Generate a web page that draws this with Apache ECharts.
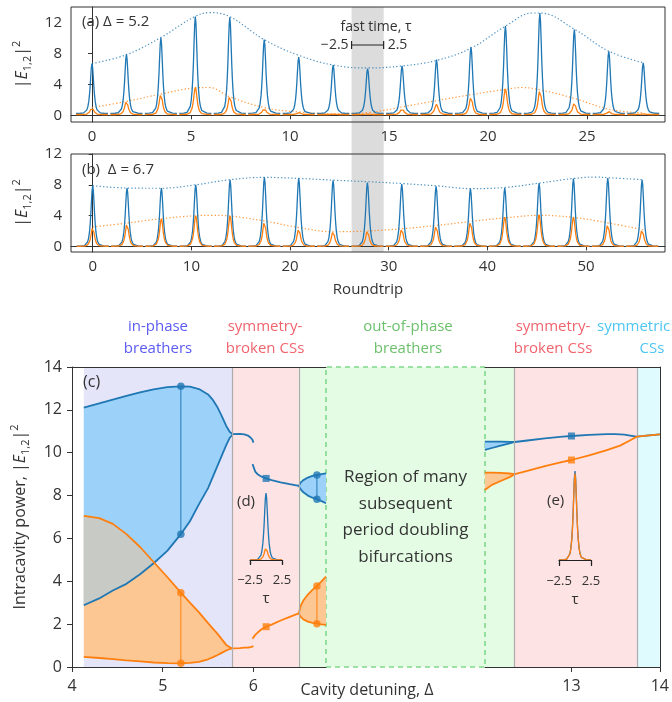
<!DOCTYPE html>
<html><head><meta charset="utf-8">
<script src="https://cdn.jsdelivr.net/npm/echarts@6/dist/echarts.min.js"></script>
<style>html,body{margin:0;padding:0;background:#fff}#c{width:672px;height:702px}</style>
</head><body><div id="c"></div>
<script>
// ---------------- DATA ----------------
// fast-time pulse profile (normalised), tau in [-2.5, 2.5]
const tauGrid = [-2.5,-1.8,-1.3,-1.0,-0.8,-0.65,-0.5,-0.4,-0.3,-0.2,-0.1,0,0.1,0.2,0.3,0.4,0.5,0.65,0.8,1.0,1.3,1.8,2.5];
const pulseProfile = [0,0.002,0.01,0.03,0.07,0.13,0.24,0.36,0.52,0.73,0.92,1,0.92,0.73,0.52,0.36,0.24,0.13,0.07,0.03,0.01,0.002,0];

// panel (a), Delta = 5.2
const roundtripA = [0,1.74,3.48,5.22,6.96,8.7,10.44,12.18,13.92,15.66,17.4,19.14,20.88,22.62,24.36,26.1,27.84];
const peakE1A = [6.7,7.9,10.05,12.8,12.7,9.8,7.55,6.5,6.05,6.4,7.2,8.85,11.57,13.25,11.1,8.3,6.8];
const peakE2A = [1.0,1.8,2.76,3.6,2.5,0.9,0.35,0.15,0.2,0.87,1.42,2.37,3.4,3.3,1.6,0.5,0.2];
const baseE1A = 0.25, baseE2A = 0.1;
const windowA = 1.62;  // roundtrip units spanned by tau in [-2.5,2.5]
const envE1A_x = [0,1.74,3.49,5.17,5.95,6.94,8.7,10.47,12.2,13.94,15.69,17.42,19.16,20.9,22.25,22.63,24.4,26.1,27.86];
const envE1A_y = [6.7,7.85,10.1,12.75,13.3,12.8,9.8,7.75,6.5,6.13,6.4,7.12,8.72,11.57,13.25,13.25,11.1,8.3,6.8];
const envE2A_x = [0,1.74,3.48,5.22,5.9,6.96,8.7,10.44,12.2,13.97,15.69,17.42,19.16,20.9,21.7,22.62,24.4,26.1,27.86];
const envE2A_y = [1.0,1.8,2.75,3.55,3.6,2.4,1.0,0.43,0.2,0.36,1.1,1.9,2.68,3.37,3.6,3.3,2.16,0.78,0.3];

// panel (b), Delta = 6.7
const roundtripB = [0,3.48,6.96,10.44,13.92,17.4,20.88,24.36,27.84,31.32,34.8,38.28,41.76,45.24,48.72,52.2,55.68];
const peakE1B = [7.88,7.58,7.58,8.0,8.66,8.96,8.85,8.57,8.3,8.1,7.8,7.5,7.58,8.23,8.8,8.88,8.66];
const peakE2B = [2.5,3.0,3.6,4.0,3.95,3.25,2.3,1.95,2.04,2.3,2.73,3.25,3.8,4.1,3.8,2.9,2.17];
const baseE1B = 0.02, baseE2B = 0.02;
const windowB = 3.24;
const envE1B_x = [0,3.47,6.95,10.43,13.9,17.4,20.9,24.4,27.9,31.4,34.9,38.4,41.9,45.35,48.8,51,52.3,55.8];
const envE1B_y = [7.88,7.58,7.55,8.0,8.66,8.96,8.83,8.6,8.4,8.16,7.86,7.5,7.67,8.23,8.83,9.0,8.92,8.66];
const envE2B_x = [0,3.47,6.95,10.43,12.2,13.9,17.4,20.9,24.4,27.9,31.4,34.9,38.4,41.9,45.35,48.8,52.3,55.8];
const envE2B_y = [2.52,3.03,3.6,3.98,4.03,3.94,3.3,2.44,1.9,2.0,2.3,2.73,3.25,3.72,4.03,3.75,3.03,2.16];

// panel (c): bifurcation diagram
const regionEdges = [4.13, 5.77, 6.5, 12.35, 13.74, 14];
const inPhaseDelta = [4.13,4.3,4.45,4.6,4.75,4.9,5.05,5.2,5.3,5.4,5.5,5.55,5.6,5.65,5.7,5.74,5.77];
const inPhaseE1Max = [12.1,12.3,12.48,12.65,12.82,12.96,13.06,13.1,13.08,12.97,12.72,12.48,12.15,11.72,11.25,10.97,10.87];
const inPhaseE1Min = [2.88,3.2,3.57,3.88,4.33,4.84,5.42,6.2,6.8,7.6,8.35,8.85,9.35,9.85,10.35,10.7,10.85];
const inPhaseE2Max = [7.05,6.95,6.68,6.2,5.6,4.9,4.2,3.47,3.0,2.55,2.05,1.8,1.57,1.3,1.03,0.92,0.87];
const inPhaseE2Min = [0.47,0.42,0.37,0.31,0.26,0.21,0.18,0.17,0.19,0.24,0.36,0.45,0.55,0.66,0.77,0.84,0.87];
const overlapEnd = 4.9;

const sbDeltaA = [5.77,5.85,5.9,5.94,5.97,5.99,6.0];
const sbE1A = [10.87,10.88,10.86,10.8,10.7,10.6,10.47];
const sbE2A = [0.87,0.88,0.9,0.91,0.93,0.95,0.97];
const sbDeltaB = [5.99,6.02,6.05,6.09,6.14,6.2,6.3,6.4,6.5];
const sbE1B = [9.47,9.12,8.98,8.88,8.8,8.72,8.62,8.53,8.45];
const sbE2B = [1.32,1.5,1.62,1.76,1.88,1.98,2.17,2.34,2.5];

const oopDelta = [6.5,6.52,6.55,6.6,6.65,6.7,6.75,6.8];
const oopE1Max = [8.45,8.6,8.72,8.84,8.92,8.96,9.0,9.04];
const oopE1Min = [8.45,8.3,8.15,8.0,7.9,7.83,7.74,7.64];
const oopE2Max = [2.5,2.85,3.1,3.38,3.6,3.78,4.0,4.22];
const oopE2Min = [2.5,2.35,2.22,2.12,2.06,2.02,1.99,1.97];

const oopRDelta = [12.02,12.1,12.2,12.3,12.36];
const oopRE1Max = [10.52,10.52,10.52,10.51,10.5];
const oopRE1Min = [10.13,10.22,10.33,10.44,10.5];
const oopRE2Max = [9.07,9.07,9.06,9.03,9.0];
const oopRE2Min = [8.26,8.5,8.68,8.86,9.0];

const sbRDeltaE1 = [12.36,12.5,12.7,12.9,13.0,13.2,13.4,13.5,13.6,13.68,13.74,13.85,14.0];
const sbRE1 = [10.5,10.57,10.67,10.75,10.78,10.83,10.87,10.87,10.84,10.79,10.75,10.8,10.86];
const sbRDeltaE2 = [12.36,12.5,12.7,12.9,13.0,13.2,13.4,13.55,13.65,13.74,13.85,14.0];
const sbRE2 = [9.0,9.15,9.37,9.57,9.66,9.88,10.12,10.33,10.55,10.75,10.8,10.86];

const dotE1 = [[5.2,13.1],[5.2,6.2],[6.7,8.96],[6.7,7.83]];
const dotE2 = [[5.2,3.47],[5.2,0.17],[6.7,3.78],[6.7,2.02]];
const squareE1L = [[6.14,8.8]], squareE2L = [[6.14,1.88]];
const squareE1R = [[13.0,10.78]], squareE2R = [[13.0,9.66]];

// insets (d), (e): peak heights relative to E1
const insetD = {e1: 1.0, e2: 0.18};
const insetE = {e1: 1.0, e2: 0.97};

// tick labels
const ticksA = [0,5,10,15,20,25], ticksB = [0,10,20,30,40,50];
const ticksYTop = [0,4,8,12];
const ticksR = [13,14];
const ticksInset = [-2.5, 2.5];

// ---------------- STYLE ----------------
const C1 = '#1f77b4', C2 = '#ff7f0e';
const FILL1 = '#9cd2fa', FILL2 = '#fdc794', FILLMIX = '#c8cac6';
const FONT = '"Open Sans", "Noto Sans", sans-serif';
const TXT = '#333';

function train(centers, peaks, base, win) {
  const d = [];
  centers.forEach((c, i) => {
    tauGrid.forEach((t, j) => d.push([c + t * win / 5, base + (peaks[i] - base) * pulseProfile[j]]));
    d.push([c + win / 2 + 0.01, '-']);
  });
  return d;
}
function pairs(xs, ys) { return xs.map((x, i) => [x, ys[i]]); }
function curve(xi, yi, xs, ys, color, w, z) {
  return {type: 'line', xAxisIndex: xi, yAxisIndex: yi, data: pairs(xs, ys), symbol: 'none',
    lineStyle: {color, width: w}, z: z || 4, silent: true, animation: false, connectNulls: false};
}
function band(xi, yi, xs, top, bottom, color, z) {
  return {type: 'custom', xAxisIndex: xi, yAxisIndex: yi, silent: true, z: z || 2, animation: false,
    data: [[xs[0], top[0]]],
    renderItem: (p, api) => {
      const pts = [];
      xs.forEach((x, i) => pts.push(api.coord([x, top[i]])));
      for (let i = xs.length - 1; i >= 0; i--) pts.push(api.coord([xs[i], bottom[i]]));
      return {type: 'polygon', shape: {points: pts}, style: {fill: color}};
    }};
}
function dots(xi, yi, data, color, symbol) {
  return {type: 'scatter', xAxisIndex: xi, yAxisIndex: yi, data, symbol, symbolSize: symbol === 'rect' ? 7 : 7.5,
    itemStyle: {color}, z: 6, silent: true, animation: false};
}
const richE = {
  it: {fontStyle: 'italic', fontSize: 16, fontFamily: FONT, color: TXT, lineHeight: 22},
  sub: {fontSize: 11, fontFamily: FONT, color: TXT, verticalAlign: 'bottom', lineHeight: 12},
  sup: {fontSize: 11, fontFamily: FONT, color: TXT, verticalAlign: 'top', lineHeight: 12}
};
const minus = v => (v < 0 ? '\u2212' : '') + Math.abs(v);
const axLine = {lineStyle: {color: TXT, width: 1}};

const overlapIdx = inPhaseDelta.map((d, i) => i).filter(i => inPhaseDelta[i] <= overlapEnd);

function insetAxes(gi, off) {
  const lc = {color: '#222', width: 1.2};
  return [
    {gridIndex: gi, type: 'value', min: -2.5, max: 2.5, offset: off, z: 20, axisLine: {show: true, lineStyle: lc}, splitLine: {show: false},
      axisTick: {show: true, customValues: ticksInset, length: 4, lineStyle: lc},
      axisLabel: {show: true, customValues: ticksInset, formatter: minus, fontSize: 13, color: TXT, margin: 9, fontFamily: FONT},
      name: 'τ', nameLocation: 'middle', nameGap: 26, nameTextStyle: {fontSize: 15, color: TXT, fontFamily: FONT}},
    {gridIndex: gi, type: 'value', min: -2.5, max: 2.5, offset: off, position: 'bottom', z: 20, axisLine: {show: false}, splitLine: {show: false},
      axisTick: {show: true, customValues: ticksInset, inside: true, length: 3, lineStyle: lc}, axisLabel: {show: false}}
  ];
}

const chart = echarts.init(document.getElementById('c'), null, {renderer: 'canvas'});
const option = {
  animation: false,
  textStyle: {fontFamily: FONT},
  grid: [
    {left: 71, top: 7, width: 594, height: 115, show: true, borderColor: TXT, borderWidth: 1},
    {left: 71, top: 154, width: 594, height: 98, show: true, borderColor: TXT, borderWidth: 1},
    {left: 72, top: 367, width: 254, height: 300},
    {left: 485, top: 367, width: 179, height: 300},
    {left: 326, top: 367, width: 159, height: 300},
    {left: 250, top: 491, width: 32, height: 69},
    {left: 559, top: 471, width: 32, height: 89}
  ],
  xAxis: [
    {gridIndex: 0, type: 'value', min: -1.06, max: 28.94, axisLine: axLine, splitLine: {show: false},
      axisTick: {customValues: ticksA, length: 4, lineStyle: {color: TXT}},
      axisLabel: {customValues: ticksA, fontSize: 15, color: TXT, margin: 7, fontFamily: FONT}},
    {gridIndex: 1, type: 'value', min: -2.2, max: 58.0, axisLine: axLine, splitLine: {show: false},
      axisTick: {customValues: ticksB, length: 4, lineStyle: {color: TXT}},
      axisLabel: {customValues: ticksB, fontSize: 15, color: TXT, margin: 7, fontFamily: FONT},
      name: 'Roundtrip', nameLocation: 'middle', nameGap: 30, nameTextStyle: {fontSize: 15, color: TXT, fontFamily: FONT}},
    {gridIndex: 2, type: 'value', min: 4, max: 6.8, interval: 1, z: 20, axisLine: axLine, splitLine: {show: false},
      axisTick: {length: 5, lineStyle: {color: TXT}},
      axisLabel: {fontSize: 16, color: TXT, margin: 11, fontFamily: FONT, showMaxLabel: false}},
    {gridIndex: 2, type: 'value', position: 'top', min: 4, max: 6.8, z: 20, axisLine: axLine, axisTick: {show: false}, axisLabel: {show: false}, splitLine: {show: false}},
    {gridIndex: 3, type: 'value', min: 12.022, max: 14, z: 20, axisLine: axLine, splitLine: {show: false},
      axisTick: {customValues: ticksR, length: 5, lineStyle: {color: TXT}},
      axisLabel: {customValues: ticksR, fontSize: 16, color: TXT, margin: 11, fontFamily: FONT}},
    {gridIndex: 3, type: 'value', position: 'top', min: 12.022, max: 14, z: 20, axisLine: axLine, axisTick: {show: false}, axisLabel: {show: false}, splitLine: {show: false}},
    {gridIndex: 4, type: 'value', min: 0, max: 1, show: false},
    ...insetAxes(5, 5),
    ...insetAxes(6, 6)
  ],
  yAxis: [
    {gridIndex: 0, type: 'value', min: -0.87, max: 14.03, axisLine: axLine, splitLine: {show: false},
      axisTick: {customValues: ticksYTop, length: 4, lineStyle: {color: TXT}},
      axisLabel: {customValues: ticksYTop, fontSize: 15, color: TXT, margin: 9, fontFamily: FONT},
      name: '|{it|E}{sub|1,2}|{sup|2}', nameLocation: 'middle', nameGap: 38, nameRotate: 90,
      nameTextStyle: {fontSize: 16, color: TXT, fontFamily: FONT, rich: richE}},
    {gridIndex: 1, type: 'value', min: -0.73, max: 12, axisLine: axLine, splitLine: {show: false},
      axisTick: {customValues: ticksYTop, length: 4, lineStyle: {color: TXT}},
      axisLabel: {customValues: ticksYTop, fontSize: 15, color: TXT, margin: 9, fontFamily: FONT},
      name: '|{it|E}{sub|1,2}|{sup|2}', nameLocation: 'middle', nameGap: 38, nameRotate: 90,
      nameTextStyle: {fontSize: 16, color: TXT, fontFamily: FONT, rich: richE}},
    {gridIndex: 2, type: 'value', min: 0, max: 14, interval: 2, z: 20, axisLine: {show: true, lineStyle: {color: TXT}}, splitLine: {show: false},
      axisTick: {show: true, length: 5, lineStyle: {color: TXT}},
      axisLabel: {fontSize: 16, color: TXT, margin: 10, fontFamily: FONT},
      name: 'Intracavity power, |{it|E}{sub|1,2}|{sup|2}', nameLocation: 'middle', nameGap: 41, nameRotate: 90,
      nameTextStyle: {fontSize: 16, color: TXT, fontFamily: FONT, rich: richE}},
    {gridIndex: 3, type: 'value', position: 'right', min: 0, max: 14, z: 20, axisLine: {show: true, lineStyle: {color: TXT}},
      axisTick: {show: false}, axisLabel: {show: false}, splitLine: {show: false}},
    {gridIndex: 4, type: 'value', min: 0, max: 1, show: false},
    {gridIndex: 5, type: 'value', min: 0, max: 1.03, show: false},
    {gridIndex: 6, type: 'value', min: 0, max: 1.0, show: false}
  ],
  series: [],
  graphic: []
};
// x axis indices: 0 A, 1 B, 2 L, 3 Ltop, 4 R, 5 Rtop, 6 M, 7-8 inset d, 9-10 inset e

const S = option.series;
function envelope(xi, yi, xs, ys, c) {
  const s = curve(xi, yi, xs, ys, c, 1.2, 3);
  s.smooth = 0.4; s.lineStyle.type = [1.3, 2.2]; s.lineStyle.opacity = 0.8;
  return s;
}
// ---- panel (a)
S.push(envelope(0, 0, envE1A_x, envE1A_y, C1));
S.push(envelope(0, 0, envE2A_x, envE2A_y, C2));
S.push({type: 'line', xAxisIndex: 0, yAxisIndex: 0, data: train(roundtripA, peakE1A, baseE1A, windowA), symbol: 'none', lineStyle: {color: C1, width: 1.3}, z: 4, silent: true});
S.push({type: 'line', xAxisIndex: 0, yAxisIndex: 0, data: train(roundtripA, peakE2A, baseE2A, windowA), symbol: 'none', lineStyle: {color: C2, width: 1.3}, z: 5, silent: true});
// ---- panel (b)
S.push(envelope(1, 1, envE1B_x, envE1B_y, C1));
S.push(envelope(1, 1, envE2B_x, envE2B_y, C2));
S.push({type: 'line', xAxisIndex: 1, yAxisIndex: 1, data: train(roundtripB, peakE1B, baseE1B, windowB), symbol: 'none', lineStyle: {color: C1, width: 1.3}, z: 4, silent: true});
S.push({type: 'line', xAxisIndex: 1, yAxisIndex: 1, data: train(roundtripB, peakE2B, baseE2B, windowB), symbol: 'none', lineStyle: {color: C2, width: 1.3}, z: 5, silent: true});

// ---- panel (c): regions
const LAV = '#e5e5fa', PINK = '#fde3e3', GREEN = '#e4fce4', CYAN = '#e0fbfd', EDGE = '#ababab';
S.push({type: 'line', xAxisIndex: 2, yAxisIndex: 2, data: [], z: 0, silent: true,
  markArea: {silent: true, data: [
    [{xAxis: regionEdges[0], itemStyle: {color: LAV}}, {xAxis: regionEdges[1]}],
    [{xAxis: regionEdges[1], itemStyle: {color: PINK}}, {xAxis: regionEdges[2]}],
    [{xAxis: regionEdges[2], itemStyle: {color: GREEN}}, {xAxis: 6.8}]]},
  markLine: {silent: true, symbol: 'none', label: {show: false}, lineStyle: {color: EDGE, width: 1.2, type: 'solid'},
    data: [{xAxis: regionEdges[1]}, {xAxis: regionEdges[2]}]}});
S.push({type: 'line', xAxisIndex: 4, yAxisIndex: 3, data: [], z: 0, silent: true,
  markArea: {silent: true, data: [
    [{xAxis: 12.022, itemStyle: {color: GREEN}}, {xAxis: regionEdges[3]}],
    [{xAxis: regionEdges[3], itemStyle: {color: PINK}}, {xAxis: regionEdges[4]}],
    [{xAxis: regionEdges[4], itemStyle: {color: CYAN}}, {xAxis: regionEdges[5]}]]},
  markLine: {silent: true, symbol: 'none', label: {show: false}, lineStyle: {color: EDGE, width: 1.2, type: 'solid'},
    data: [{xAxis: regionEdges[3]}, {xAxis: regionEdges[4]}]}});
S.push({type: 'line', xAxisIndex: 6, yAxisIndex: 4, data: [], z: 0, silent: true,
  markArea: {silent: true, data: [[{xAxis: 0, yAxis: 0,
      itemStyle: {color: GREEN, borderColor: '#7fd98c', borderWidth: 1.6, borderType: [5, 4]},
      label: {show: true, position: 'inside', formatter: 'Region of many\nsubsequent\nperiod doubling\nbifurcations',
        fontSize: 17, lineHeight: 26.5, color: TXT, fontFamily: FONT, align: 'center'}},
    {xAxis: 1, yAxis: 1}]]}});

// fills
S.push(band(2, 2, inPhaseDelta, inPhaseE1Max, inPhaseE1Min, FILL1, 1));
S.push(band(2, 2, inPhaseDelta, inPhaseE2Max, inPhaseE2Min, FILL2, 1));
S.push(band(2, 2, overlapIdx.map(i => inPhaseDelta[i]), overlapIdx.map(i => inPhaseE2Max[i]), overlapIdx.map(i => inPhaseE1Min[i]), FILLMIX, 1));
S.push(band(2, 2, oopDelta, oopE1Max, oopE1Min, FILL1, 1));
S.push(band(2, 2, oopDelta, oopE2Max, oopE2Min, FILL2, 1));
S.push(band(4, 3, oopRDelta, oopRE1Max, oopRE1Min, FILL1, 1));
S.push(band(4, 3, oopRDelta, oopRE2Max, oopRE2Min, FILL2, 1));

// curves
const LW = 1.8;
[[inPhaseE1Max, C1], [inPhaseE1Min, C1], [inPhaseE2Max, C2], [inPhaseE2Min, C2]].forEach(([ys, c]) => S.push(curve(2, 2, inPhaseDelta, ys, c, LW)));
S.push(curve(2, 2, sbDeltaA, sbE1A, C1, LW));
S.push(curve(2, 2, sbDeltaA, sbE2A, C2, LW));
S.push(curve(2, 2, sbDeltaB, sbE1B, C1, LW));
S.push(curve(2, 2, sbDeltaB, sbE2B, C2, LW));
[[oopE1Max, C1], [oopE1Min, C1], [oopE2Max, C2], [oopE2Min, C2]].forEach(([ys, c]) => S.push(curve(2, 2, oopDelta, ys, c, LW)));
[[oopRE1Max, C1], [oopRE1Min, C1], [oopRE2Max, C2], [oopRE2Min, C2]].forEach(([ys, c]) => S.push(curve(4, 3, oopRDelta, ys, c, LW)));
S.push(curve(4, 3, sbRDeltaE1, sbRE1, C1, LW));
S.push(curve(4, 3, sbRDeltaE2, sbRE2, C2, LW, 5));
// vertical connectors between extrema
S.push(curve(2, 2, [dotE1[0][0], dotE1[1][0]], [dotE1[0][1], dotE1[1][1]], C1, 1));
S.push(curve(2, 2, [dotE1[2][0], dotE1[3][0]], [dotE1[2][1], dotE1[3][1]], C1, 1));
S.push(curve(2, 2, [dotE2[0][0], dotE2[1][0]], [dotE2[0][1], dotE2[1][1]], C2, 1));
S.push(curve(2, 2, [dotE2[2][0], dotE2[3][0]], [dotE2[2][1], dotE2[3][1]], C2, 1));
S.push(dots(2, 2, dotE1, C1, 'circle'));
S.push(dots(2, 2, dotE2, C2, 'circle'));
S.push(dots(2, 2, squareE1L, C1, 'rect'));
S.push(dots(2, 2, squareE2L, C2, 'rect'));
S.push(dots(4, 3, squareE1R, C1, 'rect'));
S.push(dots(4, 3, squareE2R, C2, 'rect'));

// insets
S.push(curve(7, 5, tauGrid, pulseProfile.map(v => v * insetD.e1), C1, 1.3, 7));
S.push(curve(7, 5, tauGrid, pulseProfile.map(v => v * insetD.e2), C2, 1.3, 8));
S.push(curve(9, 6, tauGrid, pulseProfile.map(v => v * insetE.e1), C1, 1.3, 7));
S.push(curve(9, 6, tauGrid, pulseProfile.map(v => v * insetE.e2), C2, 1.3, 8));

// texts
const G = option.graphic;
function txt(text, x, y, opts) {
  G.push(Object.assign({type: 'text', x, y, z: 10, silent: true,
    style: Object.assign({text, fill: TXT, font: '15px ' + FONT, textAlign: 'left', textVerticalAlign: 'middle'}, opts || {})}));
}
txt('(a) Δ = 5.2', 82, 22);
txt('(b)  Δ = 6.7', 82, 170);
txt('(c)', 83, 382, {font: '16px ' + FONT});
txt('(d)', 237, 502, {font: '15px ' + FONT});
txt('(e)', 547, 501, {font: '15px ' + FONT});
txt('fast time, τ', 376, 27, {textAlign: 'center', font: '14px ' + FONT});
txt('Cavity detuning, Δ', 367, 690, {textAlign: 'center', font: '16px ' + FONT});
const hdr = (t, x, c) => txt(t, x, 338, {textAlign: 'center', fill: c, font: '15px ' + FONT, lineHeight: 22});
hdr('in-phase\nbreathers', 158, '#5b5bf2');
hdr('symmetry-\nbroken CSs', 265, '#f0646e');
hdr('out-of-phase\nbreathers', 408, '#6cc06c');
hdr('symmetry-\nbroken CSs', 553, '#f0646e');
txt('symmetric', 597, 327, {fill: '#4cc6f2', font: '15px ' + FONT});
txt('CSs', 652, 349, {textAlign: 'center', fill: '#4cc6f2', font: '15px ' + FONT});

chart.setOption(option);

// grey fast-time window band (pulse #8 of panel a) and its scale bar
const bi = 8;
const bx0 = chart.convertToPixel({xAxisIndex: 0}, roundtripA[bi] - windowA / 2);
const bx1 = chart.convertToPixel({xAxisIndex: 0}, roundtripA[bi] + windowA / 2);
const by0 = chart.convertToPixel({yAxisIndex: 0}, 14.03);
const by1 = chart.convertToPixel({yAxisIndex: 1}, -0.73);
const barY = 45;
G.push({type: 'rect', z: -1, silent: true, shape: {x: bx0, y: by0, width: bx1 - bx0, height: by1 - by0}, style: {fill: '#dcdcdc'}});
G.push({type: 'line', z: 10, silent: true, shape: {x1: bx0, y1: barY, x2: bx1, y2: barY}, style: {stroke: '#222', lineWidth: 1.2}});
G.push({type: 'line', z: 10, silent: true, shape: {x1: bx0, y1: barY - 4, x2: bx0, y2: barY + 4}, style: {stroke: '#222', lineWidth: 1.2}});
G.push({type: 'line', z: 10, silent: true, shape: {x1: bx1, y1: barY - 4, x2: bx1, y2: barY + 4}, style: {stroke: '#222', lineWidth: 1.2}});
txt('\u22122.5', bx0 - 3, barY, {textAlign: 'right', font: '14px ' + FONT});
txt('2.5', bx1 + 4, barY, {textAlign: 'left', font: '14px ' + FONT});
chart.setOption({graphic: G});
</script></body></html>
